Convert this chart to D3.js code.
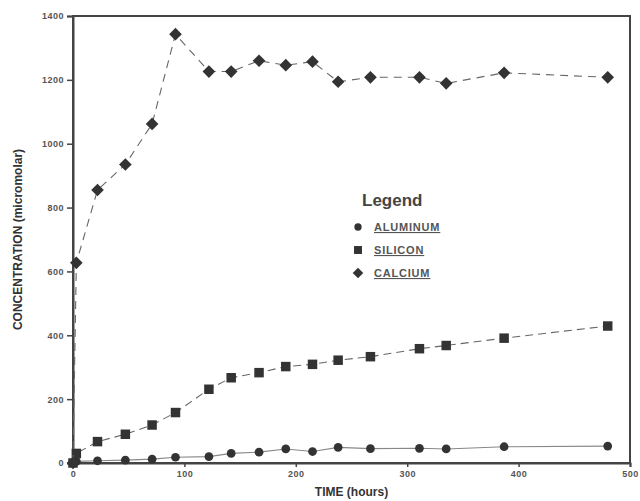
<!DOCTYPE html>
<html>
<head>
<meta charset="utf-8">
<script src="https://cdn.jsdelivr.net/npm/d3@7"></script>
<style>
  body { margin: 0; background: #fff; }
  svg { display: block; font-family: 'Liberation Sans', Arial, sans-serif; }
</style>
</head>
<body>
<svg id="chart" width="640" height="501"></svg>
<script>
// sampling times (hours), shared by all three series
const hours = [0, 3, 22, 47, 71, 92, 122, 142, 167, 191, 215, 238, 267, 311, 335, 387, 480];

const aluminum = [0, 5, 7, 9, 12, 18, 20, 30, 34, 44, 36, 49, 45, 46, 44, 51, 53];
const silicon  = [0, 30, 67, 90, 119, 158, 231, 267, 283, 302, 309, 322, 333, 358, 368, 391, 429];
const calcium  = [0, 627, 855, 935, 1062, 1343, 1226, 1226, 1260, 1246, 1257, 1194, 1208, 1208, 1189, 1222, 1208];

const xTicks = [0, 100, 200, 300, 400, 500];
const yTicks = [0, 200, 400, 600, 800, 1000, 1200, 1400];

// diamond = square turned 45 degrees
const series = [
  { name: 'ALUMINUM', values: aluminum, symbol: d3.symbolCircle, size: 60, rot: 0, dash: null, stroke: '#888' },
  { name: 'SILICON', values: silicon, symbol: d3.symbolSquare, size: 90, rot: 0, dash: '8,5', stroke: '#666' },
  { name: 'CALCIUM', values: calcium, symbol: d3.symbolSquare, size: 80, rot: 45, dash: '8,6', stroke: '#666' }
];

const margin = { top: 16, right: 10, bottom: 38, left: 73 };
const width = 640, height = 501;

const svg = d3.select('#chart');

const x = d3.scaleLinear().domain([0, 500]).range([margin.left, width - margin.right]);
const y = d3.scaleLinear().domain([0, 1400]).range([height - margin.bottom, margin.top]);

// frame
svg.append('rect')
  .attr('x', x(0)).attr('y', y(1400))
  .attr('width', x(500) - x(0)).attr('height', y(0) - y(1400))
  .attr('fill', 'none').attr('stroke', '#444').attr('stroke-width', 2);

// axes
const xAxis = svg.append('g')
  .attr('transform', `translate(0,${y(0)})`)
  .call(d3.axisBottom(x).tickValues(xTicks).tickFormat(d3.format('d')).tickSize(4).tickPadding(4));
const yAxis = svg.append('g')
  .attr('transform', `translate(${x(0)},0)`)
  .call(d3.axisLeft(y).tickValues(yTicks).tickFormat(d3.format('d')).tickSize(6).tickPadding(3));

[xAxis, yAxis].forEach(a => {
  a.select('.domain').attr('stroke', '#444').attr('stroke-width', 2);
  a.selectAll('.tick line').attr('stroke', '#444').attr('stroke-width', 1.5);
  a.selectAll('.tick text')
    .attr('fill', '#555')
    .style('font-size', '9px')
    .style('font-weight', 'bold')
    .style('letter-spacing', '0.5px');
});

// axis titles
svg.append('text')
  .attr('x', (x(0) + x(500)) / 2).attr('y', 496)
  .attr('text-anchor', 'middle')
  .attr('fill', '#333')
  .style('font-size', '12px').style('font-weight', 'bold')
  .text('TIME (hours)');

svg.append('text')
  .attr('transform', `translate(22,${(y(0) + y(1400)) / 2}) rotate(-90)`)
  .attr('text-anchor', 'middle')
  .attr('fill', '#333')
  .style('font-size', '12px').style('font-weight', 'bold')
  .text('CONCENTRATION (micromolar)');

// series lines and markers
const line = d3.line().x((d, i) => x(hours[i])).y(d => y(d));

series.forEach(s => {
  svg.append('path')
    .datum(s.values)
    .attr('d', line)
    .attr('fill', 'none')
    .attr('stroke', s.stroke)
    .attr('stroke-width', 1.1)
    .attr('stroke-dasharray', s.dash);

  svg.append('g').selectAll('path')
    .data(s.values)
    .join('path')
    .attr('transform', (d, i) => `translate(${x(hours[i])},${y(d)}) rotate(${s.rot})`)
    .attr('d', d3.symbol().type(s.symbol).size(s.size))
    .attr('fill', '#333');
});

// legend
const legend = svg.append('g').attr('transform', 'translate(358,0)');
legend.append('text')
  .attr('x', 4).attr('y', 206)
  .attr('fill', '#444')
  .style('font-size', '17px').style('font-weight', 'bold')
  .text('Legend');

series.forEach((s, i) => {
  const yy = 227 + i * 23;
  legend.append('path')
    .attr('transform', `translate(0,${yy}) rotate(${s.rot})`)
    .attr('d', d3.symbol().type(s.symbol).size(s.size * 0.7))
    .attr('fill', '#333');
  legend.append('text')
    .attr('x', 16).attr('y', yy + 4)
    .attr('fill', '#555')
    .style('font-size', '11px').style('font-weight', 'bold')
    .style('letter-spacing', '0.8px')
    .style('text-decoration', 'underline')
    .text(s.name);
});
</script>
</body>
</html>
